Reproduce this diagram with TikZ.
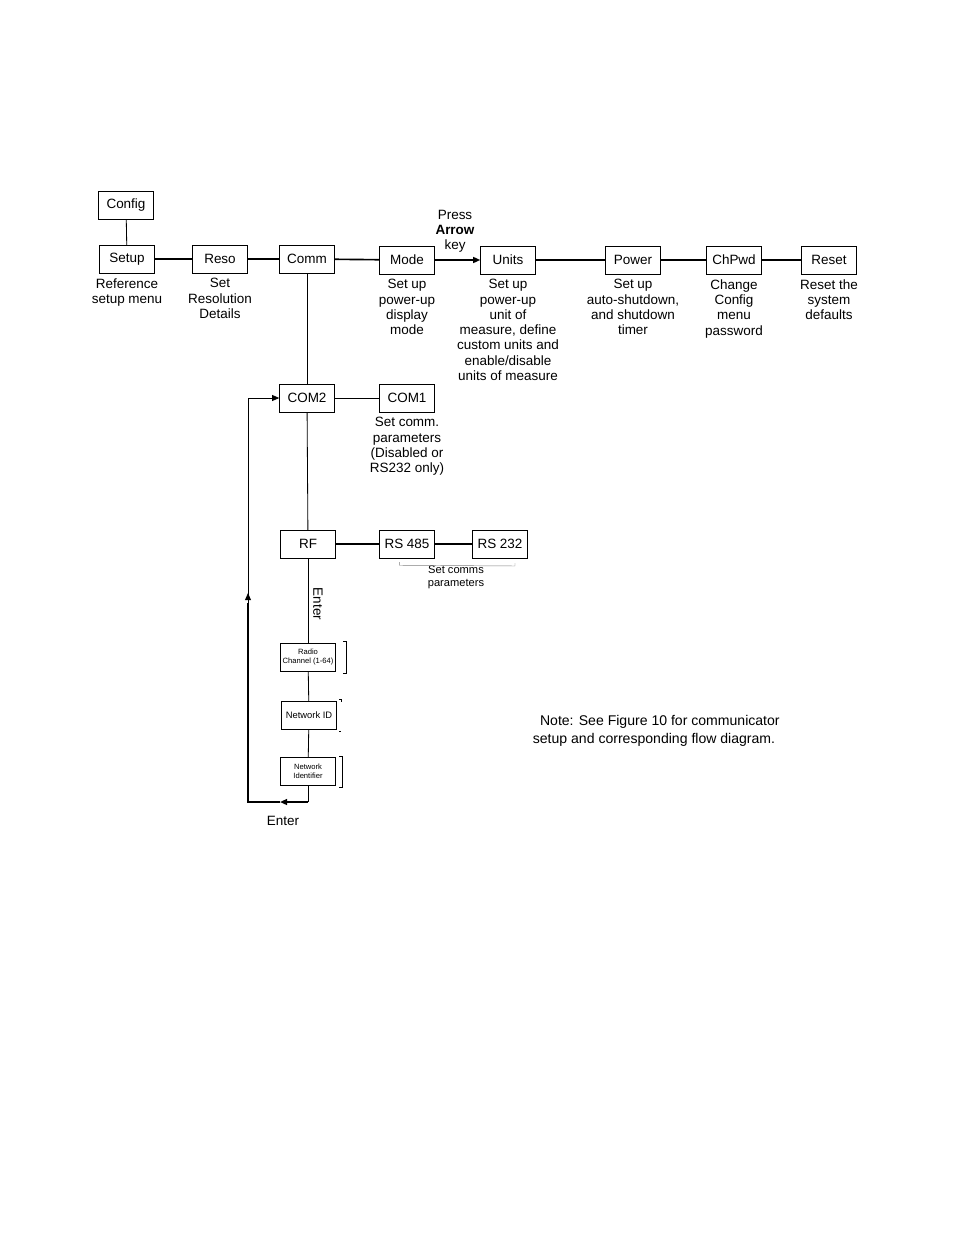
\documentclass[tikz,border=0pt]{standalone}
\usepackage{fontspec}
\setmainfont{Liberation Sans}
\usetikzlibrary{arrows.meta}
\begin{document}
\begin{tikzpicture}[x=0.03cm,y=-0.03cm,
every node/.style={font=\fontsize{11.5}{13}\selectfont},
menu/.style={draw, minimum width=1.65cm, minimum height=0.84cm, inner sep=1pt},
small/.style={draw, minimum width=1.65cm, minimum height=0.84cm, inner sep=1pt, font=\fontsize{6.5}{7.5}\selectfont, align=center},
info/.style={below=1pt, align=center, font=\fontsize{11.5}{13}\selectfont},
bar/.style={line width=1.4pt},
lnk/.style={line width=0.7pt}
]
\useasboundingbox (0,0) rectangle (954,1235);
% Top row
\node[menu] (config) at (126,205) {Config};
\node[menu] (setup) at (127,259) {Setup};
\node[menu] (reso) at (220,259) {Reso};
\node[menu] (comm) at (307,259) {Comm};
\node[menu] (mode) at (407,260) {Mode};
\node[menu] (units) at (508,260) {Units};
\node[menu] (power) at (633,260) {Power};
\node[menu] (chpwd) at (734,260) {ChPwd};
\node[menu] (reset) at (829,260) {Reset};
% Comm column
\node[menu] (com2) at (307,398) {COM2};
\node[menu] (com1) at (407,398) {COM1};
\node[menu] (rf) at (308,544) {RF};
\node[menu] (rs485) at (407,544) {RS 485};
\node[menu] (rs232) at (500,544) {RS 232};
\node[small] (radio) at (308,657) {Radio\\Channel (1-64)};
\node[small, font=\fontsize{8}{9}\selectfont] (netid) at (309,715) {Network ID};
\node[small] (netident) at (308,771) {Network\\Identifier};
\coordinate (loopb) at (308,802);
\coordinate (loopbl) at (248,802);
\coordinate (looptl) at (248,398);
% Descriptions
\node[info] at (setup.south) {Reference\\setup menu};
\node[info] at (reso.south) {Set\\Resolution\\Details};
\node[info] at (mode.south) {Set up\\power-up\\display\\mode};
\node[info] at (units.south) {Set up\\power-up\\unit of\\measure, define\\custom units and\\enable/disable\\units of measure};
\node[info] at (power.south) {Set up\\auto-shutdown,\\and shutdown\\timer};
\node[info] at (chpwd.south) {Change\\Config\\menu\\password};
\node[info] at (reset.south) {Reset the\\system\\defaults};
\node[info] at (com1.south) {Set comm.\\parameters\\(Disabled or\\RS232 only)};
\node[align=center] (press) at (455,231) {Press\\\textbf{Arrow}\\key};
\node[font=\fontsize{9.5}{11}\selectfont, align=center] (setcomms) at (456,577) {Set comms\\parameters};
\node[rotate=-90] (enter1) at (318,604) {Enter};
\node (enter2) at (283,821) {Enter};
\node[font=\fontsize{12}{15}\selectfont, align=center] (note) at (654,731) {\ \ \ Note: See Figure 10 for communicator\\setup and corresponding flow diagram.};
% Connectors
\draw[lnk] (config) -- (setup);
\draw[bar] (setup) -- (reso);
\draw[bar] (reso) -- (comm);
\draw[bar] (comm) -- (mode);
\draw[bar, -{Triangle[length=6pt,width=5pt]}] (mode) -- (units);
\draw[bar] (units) -- (power);
\draw[bar] (power) -- (chpwd);
\draw[bar] (chpwd) -- (reset);
\draw[lnk] (comm) -- (com2);
\draw[lnk] (com2) -- (com1);
\draw[lnk] (com2) -- (rf);
\draw[bar] (rf) -- (rs485);
\draw[bar] (rs485) -- (rs232);
\draw[lnk] (rf) -- (radio);
\draw[lnk] (radio) -- (netid);
\draw[lnk] (netid) -- (netident);
\draw[lnk] (netident) -- (loopb);
\draw[bar, -{Triangle[length=6pt,width=5pt]}] (loopb) -- (280,802);
\draw[bar] (280,802) -- (loopbl) -- (248,603);
\draw[lnk, -{Triangle[length=6pt,width=5pt]}] (looptl) ++(0,205) -- ++(0,-10);
\draw[lnk] (248,603) -- (looptl);
\draw[lnk, -{Triangle[length=6pt,width=5pt]}] (looptl) -- (com2);
% Brackets
\draw[gray, line width=0.4pt] (rs485.south west) ++(20,4) -- ++(0,3) -- (515,566) -- (515,563);
\draw[lnk] (343,641) -- (346,641) -- (346,673) -- (343,673);
\draw[lnk] (339,699) -- (341,699) -- (341,702);
\draw[lnk] (339,731) -- (341,731);
\draw[lnk] (339,756) -- (342,756) -- (342,787) -- (339,787);
\end{tikzpicture}
\end{document}
